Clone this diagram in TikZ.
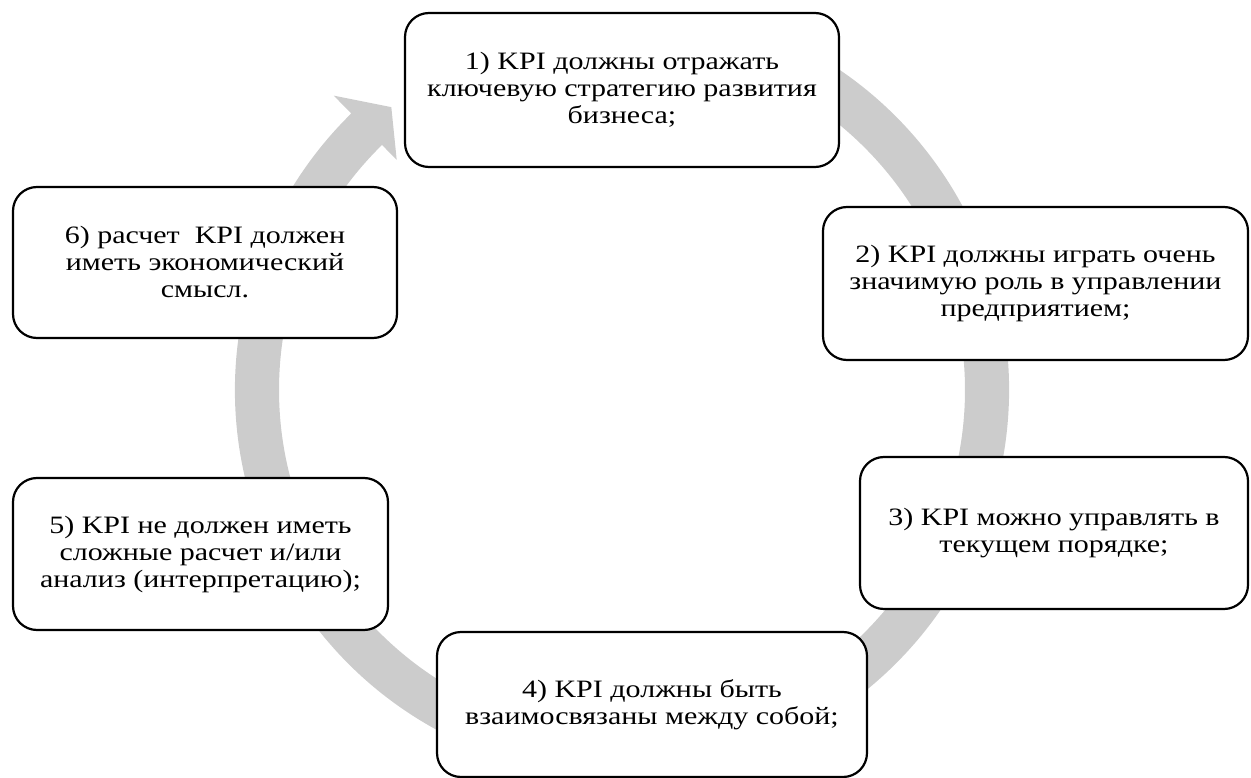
\documentclass[tikz,border=0pt]{standalone}
\usepackage{fontspec}
\setmainfont{Liberation Serif}
\newfontfamily\kpifont[FakeStretch=1.2]{Liberation Serif}
\usetikzlibrary{calc}
\definecolor{ringgray}{RGB}{204,204,204}
\begin{document}
\begin{tikzpicture}[x=1pt,y=-1pt,
  kpibox/.style={draw=black, line width=2.2pt, fill=white, rounded corners=24pt,
    align=center, inner sep=0pt, font=\kpifont\fontsize{25}{27}\selectfont}]
\useasboundingbox (0,0) rectangle (1251,778);
\coordinate (ctr) at (622,390);
% circular arrow
\fill[ringgray] ($(ctr)+(-75:387)$) arc[start angle=-75,end angle=225.6,radius=387]
  -- ($(ctr)+(225.6:412)$) -- ($(ctr)+(230.8:365)$) -- ($(ctr)+(225.6:322)$)
  -- ($(ctr)+(225.6:343)$) arc[start angle=225.6,end angle=-75,radius=343] -- cycle;
% boxes
\node[kpibox, minimum width=434pt, minimum height=154pt] (n1) at (622,90)
  {1) KPI должны отражать\\ключевую стратегию развития\\бизнеса;};
\node[kpibox, minimum width=425pt, minimum height=153pt] (n2) at (1035.5,283.5)
  {2) KPI должны играть очень\\значимую роль в управлении\\предприятием;};
\node[kpibox, minimum width=388pt, minimum height=152pt] (n3) at (1054,533)
  {3) KPI можно управлять в\\текущем порядке;};
\node[kpibox, minimum width=430pt, minimum height=145pt] (n4) at (652,704.5)
  {4) KPI должны быть\\взаимосвязаны между собой;};
\node[kpibox, minimum width=375pt, minimum height=152pt] (n5) at (200.5,554)
  {5) KPI не должен иметь\\сложные расчет и/или\\анализ (интерпретацию);};
\node[kpibox, minimum width=384pt, minimum height=151pt] (n6) at (205,262.5)
  {6) расчет~ KPI должен\\иметь экономический\\смысл.};
\end{tikzpicture}
\end{document}
